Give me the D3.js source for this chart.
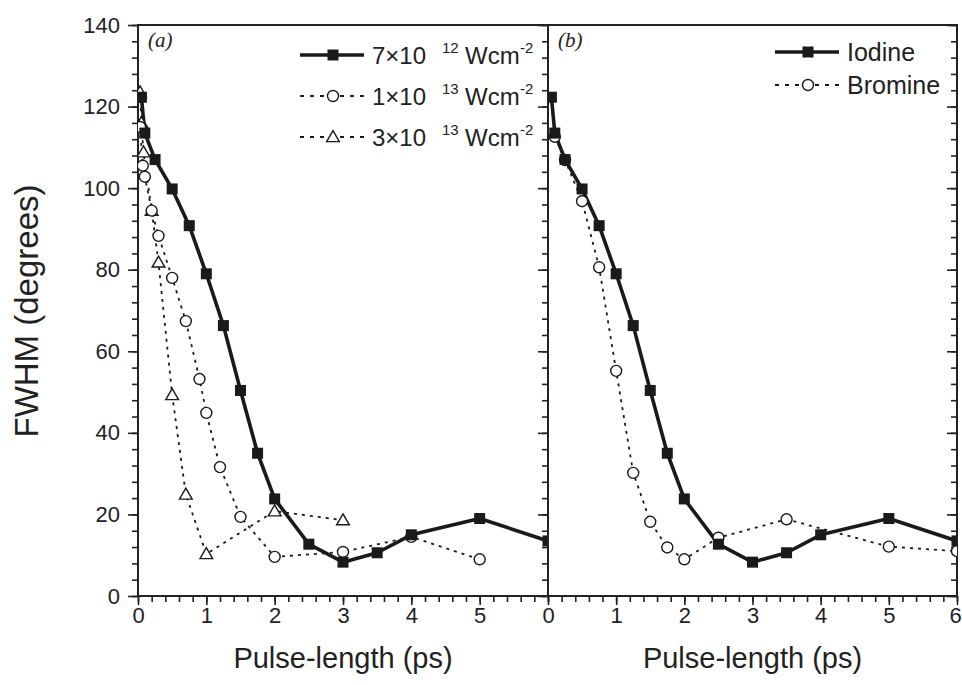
<!DOCTYPE html>
<html lang="en">
<head>
<meta charset="UTF-8">
<title>FWHM vs pulse length</title>
<script src="https://cdnjs.cloudflare.com/ajax/libs/d3/7.8.5/d3.min.js"></script>
<style>
  body { margin: 0; background: #fff; }
  text { font-family: "Liberation Sans", Arial, Helvetica, sans-serif; fill: #222; }
</style>
</head>
<body>
<div id="wrapper"></div>
<script>
// data (pulse length in ps, FWHM in degrees)
const iodineX = [0.05, 0.1, 0.25, 0.5, 0.75, 1.0, 1.25, 1.5, 1.75, 2.0, 2.5, 3.0, 3.5, 4.0, 5.0, 6.0]
const iodineY = [122.3, 113.5, 107, 99.8, 90.8, 79, 66.3, 50.4, 35, 23.8, 12.7, 8.3, 10.6, 15, 19, 13.5]

const i1e13X = [0.03, 0.07, 0.1, 0.2, 0.3, 0.5, 0.7, 0.9, 1.0, 1.2, 1.5, 2.0, 3.0, 4.0, 5.0]
const i1e13Y = [115, 105.5, 102.8, 94.5, 88.3, 78, 67.4, 53.2, 44.9, 31.6, 19.4, 9.6, 10.8, 14.5, 9.0]

const i3e13X = [0.03, 0.05, 0.08, 0.2, 0.3, 0.5, 0.7, 1.0, 2.0, 3.0]
const i3e13Y = [123.5, 116, 108.8, 94.5, 81.8, 49.3, 24.9, 10.3, 20.8, 18.6]

const bromineX = [0.1, 0.25, 0.5, 0.75, 1.0, 1.25, 1.5, 1.75, 2.0, 2.5, 3.5, 5.0, 6.0]
const bromineY = [112.6, 106.9, 96.8, 80.6, 55.2, 30.2, 18.2, 11.9, 9.0, 14.3, 18.8, 12.1, 11]

const yTicks = [0, 20, 40, 60, 80, 100, 120, 140]
const xTicksA = [0, 1, 2, 3, 4, 5]
const xTicksB = [0, 1, 2, 3, 4, 5, 6]

const zip = (xs, ys) => xs.map((x, i) => ({ x, y: ys[i] }))

const width = 962, height = 685
const svg = d3.select('#wrapper').append('svg')
  .attr('width', width).attr('height', height)

const plotTop = 25, plotBottom = 596
const y = d3.scaleLinear().domain([0, 140]).range([plotBottom, plotTop])
const xA = d3.scaleLinear().domain([0, 6]).range([138, 548])
const xB = d3.scaleLinear().domain([0, 6]).range([548, 957])

const minorX = d3.range(0, 31).map(i => i * 0.2)
const minorY = d3.range(0, 36).map(i => i * 4)

function ticks(g, axis) {
  g.call(axis)
  g.select('.domain').remove()
  g.selectAll('.tick line').attr('stroke', '#222').attr('stroke-width', 1.6)
}

function panel(x, name, xTicks, clipId) {
  const g = svg.append('g')
  const x0 = x.range()[0], x1 = x.range()[1]

  g.append('defs').append('clipPath').attr('id', clipId)
    .append('rect').attr('x', x0).attr('y', plotTop).attr('width', x1 - x0).attr('height', plotBottom - plotTop)

  // bottom ticks (outward)
  g.append('g').attr('transform', `translate(0,${plotBottom})`)
    .call(ticks, d3.axisBottom(x).tickValues(minorX).tickSize(6).tickFormat(''))
  const xa = g.append('g').attr('transform', `translate(0,${plotBottom})`)
  xa.call(ticks, d3.axisBottom(x).tickValues(xTicks).tickSize(9).tickPadding(2).tickFormat(d3.format('d')))
  xa.selectAll('text').style('font-size', '22px').attr('fill', '#222')
  // last label sits on the page edge, nudge it in a little
  xa.selectAll('.tick').filter(d => d === 6).select('text').attr('dx', -2)

  // right-edge ticks (inward)
  g.append('g').attr('transform', `translate(${x1},0)`)
    .call(ticks, d3.axisRight(y).tickValues(minorY).tickSize(-6).tickFormat(''))
  g.append('g').attr('transform', `translate(${x1},0)`)
    .call(ticks, d3.axisRight(y).tickValues(yTicks).tickSize(-10).tickFormat(''))

  g.append('rect').attr('x', x0).attr('y', plotTop).attr('width', x1 - x0).attr('height', plotBottom - plotTop)
    .attr('fill', 'none').attr('stroke', '#222').attr('stroke-width', 2)

  g.append('text').attr('x', x0 + 10).attr('y', 47)
    .style('font-family', '"Liberation Serif", "Times New Roman", serif')
    .style('font-style', 'italic').style('font-size', '21px').text(name)

  const plot = g.append('g').attr('clip-path', `url(#${clipId})`)
  return plot
}

function drawLine(plot, x, data, solid) {
  const line = d3.line().x(d => x(d.x)).y(d => y(d.y))
  plot.append('path').datum(data).attr('d', line)
    .attr('fill', 'none').attr('stroke', '#1a1a1a')
    .attr('stroke-width', solid ? 3.6 : 1.8)
    .attr('stroke-dasharray', solid ? null : '3,5')
    .attr('stroke-linejoin', 'round')
}

function drawSquares(plot, x, data) {
  plot.selectAll(null).data(data).join('rect')
    .attr('x', d => x(d.x) - 5.5).attr('y', d => y(d.y) - 5.5)
    .attr('width', 11).attr('height', 11).attr('fill', '#1a1a1a')
}

function drawCircles(plot, x, data) {
  plot.selectAll(null).data(data).join('circle')
    .attr('cx', d => x(d.x)).attr('cy', d => y(d.y)).attr('r', 5.5)
    .attr('fill', '#fff').attr('stroke', '#1a1a1a').attr('stroke-width', 1.4)
}

const tri = d3.symbol().type(d3.symbolTriangle).size(70)
function drawTriangles(plot, x, data) {
  plot.selectAll(null).data(data).join('path')
    .attr('d', tri)
    .attr('transform', d => `translate(${x(d.x)},${y(d.y) + 1})`)
    .attr('fill', '#fff').attr('stroke', '#1a1a1a').attr('stroke-width', 1.4)
}

// left y axis (outward)
svg.append('g').attr('transform', 'translate(138,0)')
  .call(ticks, d3.axisLeft(y).tickValues(minorY).tickSize(6).tickFormat(''))
const ya = svg.append('g').attr('transform', 'translate(138,0)')
ya.call(ticks, d3.axisLeft(y).tickValues(yTicks).tickSize(10).tickPadding(8).tickFormat(d3.format('d')))
ya.selectAll('text').style('font-size', '22px').attr('fill', '#222')

const plotA = panel(xA, '(a)', xTicksA, 'clipA')
const plotB = panel(xB, '(b)', xTicksB, 'clipB')

drawLine(plotA, xA, zip(i3e13X, i3e13Y), false)
drawLine(plotA, xA, zip(i1e13X, i1e13Y), false)
drawLine(plotA, xA, zip(iodineX, iodineY), true)
drawTriangles(plotA, xA, zip(i3e13X, i3e13Y))
drawCircles(plotA, xA, zip(i1e13X, i1e13Y))
drawSquares(plotA, xA, zip(iodineX, iodineY))

drawLine(plotB, xB, zip(bromineX, bromineY), false)
drawLine(plotB, xB, zip(iodineX, iodineY), true)
drawCircles(plotB, xB, zip(bromineX, bromineY))
drawSquares(plotB, xB, zip(iodineX, iodineY))

// axis titles
svg.append('text').attr('x', xA(3)).attr('y', 668).attr('text-anchor', 'middle')
  .style('font-size', '29px').text('Pulse-length (ps)')
svg.append('text').attr('x', xB(3)).attr('y', 668).attr('text-anchor', 'middle')
  .style('font-size', '29px').text('Pulse-length (ps)')
svg.append('text').attr('transform', 'translate(38,311) rotate(-90)').attr('text-anchor', 'middle')
  .style('font-size', '33px').text('FWHM (degrees)')

// legends
function legendSample(g, x0, yy, kind) {
  g.append('line').attr('x1', x0).attr('x2', x0 + 64).attr('y1', yy).attr('y2', yy)
    .attr('stroke', '#1a1a1a').attr('stroke-width', kind === 'square' ? 3.6 : 1.8)
    .attr('stroke-dasharray', kind === 'square' ? null : '4,6')
  const cx = x0 + 33
  if (kind === 'square') g.append('rect').attr('x', cx - 5.5).attr('y', yy - 5.5).attr('width', 11).attr('height', 11).attr('fill', '#1a1a1a')
  if (kind === 'circle') g.append('circle').attr('cx', cx).attr('cy', yy).attr('r', 5.5).attr('fill', '#fff').attr('stroke', '#1a1a1a').attr('stroke-width', 1.4)
  if (kind === 'triangle') g.append('path').attr('d', tri).attr('transform', `translate(${cx},${yy + 1})`).attr('fill', '#fff').attr('stroke', '#1a1a1a').attr('stroke-width', 1.4)
}

function powerEntry(x0, yy, kind, mant, expo) {
  const g = svg.append('g')
  legendSample(g, x0, yy, kind)
  const base = yy + 9
  g.append('text').attr('x', x0 + 72).attr('y', base).style('font-size', '24px').text(`${mant}×10`)
  g.append('text').attr('x', x0 + 142).attr('y', base - 11).style('font-size', '15px').text(expo)
  g.append('text').attr('x', x0 + 165).attr('y', base).style('font-size', '24px').text('Wcm')
  g.append('text').attr('x', x0 + 220).attr('y', base - 11).style('font-size', '15px').text('-2')
}

function nameEntry(x0, yy, kind, name) {
  const g = svg.append('g')
  legendSample(g, x0, yy, kind)
  g.append('text').attr('x', x0 + 72).attr('y', yy + 9).style('font-size', '25px').text(name)
}

powerEntry(300, 55, 'square', 7, 12)
powerEntry(300, 96, 'circle', 1, 13)
powerEntry(300, 137, 'triangle', 3, 13)

nameEntry(775, 52, 'square', 'Iodine')
nameEntry(775, 85, 'circle', 'Bromine')
</script>
</body>
</html>
